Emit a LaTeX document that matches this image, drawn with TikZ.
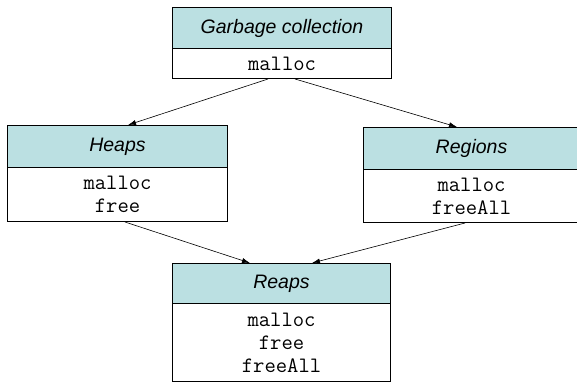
\documentclass[tikz,border=0pt]{standalone}
\usepackage{fontspec}
\setmainfont{Liberation Sans}
\usetikzlibrary{arrows.meta}
\definecolor{headfill}{RGB}{187,224,226}

\begin{document}
\begin{tikzpicture}[x=1pt,y=-1pt,
    head/.style={draw,fill=headfill,line width=1pt,inner sep=0pt,anchor=north west,
      font=\fontsize{19.5}{20}\selectfont\itshape},
    body/.style={draw,fill=white,line width=1pt,inner sep=0pt,anchor=north west,
      align=center,font=\fontsize{22}{23}\selectfont\ttfamily},
    link/.style={-{Latex[length=8pt,width=5pt]},line width=0.6pt}]
	\useasboundingbox (0,0) rectangle (577,382);
	\clip (0,0) rectangle (577,382);
	% boxes: name/left/top/width/divider/bottom/title/operations
	\foreach \n/\x/\y/\w/\d/\b/\t/\m in {gc/172/7/219/48/78/Garbage collection/malloc,
		heaps/7/125/220/167/221/Heaps/malloc\\free,
		regions/363/127/216/169/222/Regions/malloc\\freeAll,
		reaps/172/263/218/303/381/Reaps/malloc\\free\\freeAll}{%
		\node[head,minimum width=\w,minimum height=\d-\y] (\n-h) at (\x,\y) {\t};
		\node[body,minimum width=\w,minimum height=\b-\d] (\n-b) at (\x,\d) {\m};
	}
	\draw[link] ([xshift=96]gc-b.south west) -- ([xshift=121]heaps-h.north west);
	\draw[link] ([xshift=123]gc-b.south west) -- ([xshift=94]regions-h.north west);
	\draw[link] ([xshift=118]heaps-b.south west) -- ([xshift=78]reaps-h.north west);
	\draw[link] ([xshift=102]regions-b.south west) -- ([xshift=140]reaps-h.north west);
\end{tikzpicture}
\end{document}
